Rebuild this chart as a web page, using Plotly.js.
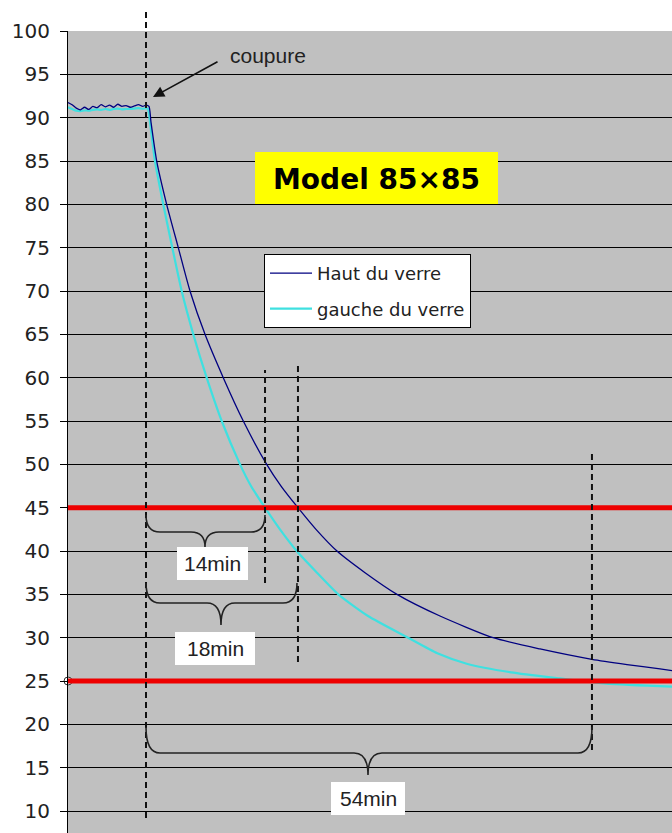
<!DOCTYPE html>
<html>
<head>
<meta charset="utf-8">
<script src="https://cdn.plot.ly/plotly-3.0.1.min.js"></script>
<style>
  html, body { margin: 0; padding: 0; background: #ffffff; overflow: hidden; }
  #chart { width: 672px; height: 833px; }
</style>
</head>
<body>
<div id="chart"></div>
<script>
// ---------- data (minutes after the cut, temperature) ----------
const timeHaut = [-9.4,-8.9,-8.4,-7.9,-7.4,-6.9,-6.4,-5.9,-5.4,-4.9,-4.4,-3.9,-3.4,-2.9,-2.4,-1.9,-1.4,-0.9,-0.4,0.0,
  0.36,0.6,1.29,2.49,3.89,5.30,7.11,9.31,11.72,14.54,16.27,18.31,20.48,23.01,26.39,30.24,35.42,41.81,47.47,53.73,57.95,61.93,63.4];
const haut = [91.75,91.5,91.1,90.9,91.2,90.95,91.3,91.15,91.5,91.25,91.45,91.2,91.55,91.3,91.4,91.2,91.35,91.5,91.3,91.45,
  91.3,89.5,85.0,80.0,75.0,70.0,65.0,60.0,55.0,50.0,47.5,45.0,42.5,40.0,37.5,35.0,32.5,30.0,28.7,27.5,26.9,26.4,26.2];

const timeGauche = [-9.4,-8.9,-8.4,-7.9,-7.4,-6.9,-6.4,-5.9,-5.4,-4.9,-4.4,-3.9,-3.4,-2.9,-2.4,-1.9,-1.4,-0.9,-0.4,0.0,
  0.24,0.48,1.08,2.08,3.17,4.30,5.70,7.31,9.12,11.33,12.65,14.34,16.14,18.16,20.6,23.17,26.75,31.57,35.1,38.64,44.0,49.88,55.5,63.4];
const gauche = [91.2,91.0,90.8,90.75,90.85,90.8,90.9,90.95,90.9,91.0,90.9,91.0,91.05,90.95,91.0,91.0,91.05,91.1,91.0,91.1,
  91.0,89.5,85.0,80.0,75.0,70.0,65.0,60.0,55.0,50.0,47.5,45.0,42.5,40.0,37.5,35.0,32.5,30.0,28.2,27.0,26.0,25.3,24.7,24.35];

const seriesNames = ["Haut du verre", "gauche du verre"];
const thresholdLevels = [45, 25];
const crossTimes = [14.34, 18.31, 53.73];        // dashed markers (minutes after cut)
const intervalLabels = ["14min", "18min", "54min"];
const yTickVals = [10,15,20,25,30,35,40,45,50,55,60,65,70,75,80,85,90,95,100];
const titleText = "Model 85×85";
const cutLabel = "coupure";

// ---------- pixel helpers for decorations ----------
const PX0 = 146, PXS = 8.3, PY0 = 31, PYS = 8.667;
function X(px){ return (px - PX0) / PXS; }
function Y(py){ return 100 - (py - PY0) / PYS; }
function PY(py){ return (833 - py) / 802; }

const xr = [X(68), X(672)];
const yr = [Y(833), 100];

function brace(x0, x1, yTop, yBar, xc, yTip){
  const r = 14;
  const pts = [
    'M', X(x0), Y(yTop),
    'Q', X(x0), Y(yBar), X(x0 + r), Y(yBar),
    'L', X(xc - r), Y(yBar),
    'Q', X(xc), Y(yBar), X(xc), Y(yTip),
    'Q', X(xc), Y(yBar), X(xc + r), Y(yBar),
    'L', X(x1 - r), Y(yBar),
    'Q', X(x1), Y(yBar), X(x1), Y(yTop)
  ];
  let out = '', nums = [];
  for (const p of pts) {
    if (typeof p === 'string') { out += p + ' '; }
    else { nums.push(p); if (nums.length === 2) { out += nums[0].toFixed(4) + ',' + nums[1].toFixed(4) + ' '; nums = []; } }
  }
  return {type:'path', xref:'x', yref:'y', path: out.trim(), line:{color:'#222', width:1.6}, layer:'above'};
}

const dash = '6px,4px';
const shapes = [];
// title box
shapes.push({type:'rect', xref:'x', yref:'y', x0:X(255), x1:X(498), y0:Y(204), y1:Y(152),
  fillcolor:'#ffff00', line:{width:0}, layer:'above'});
// red thresholds
thresholdLevels.forEach(v => shapes.push({type:'line', xref:'x', yref:'y', x0:xr[0], x1:xr[1], y0:v, y1:v,
  line:{color:'#ee0000', width:5}, layer:'above'}));
// cut dashed line (extends above plot)
shapes.push({type:'line', xref:'x', yref:'paper', x0:0, x1:0, y0:PY(818), y1:PY(8),
  line:{color:'#111', width:2, dash:dash}, layer:'above'});
// crossing dashed lines
const dashSpans = [[370,583],[363,662],[452,750]];
crossTimes.forEach((t,i) => shapes.push({type:'line', xref:'x', yref:'y', x0:t, x1:t,
  y0:Y(dashSpans[i][1]), y1:Y(dashSpans[i][0]), line:{color:'#111', width:2, dash:dash}, layer:'above'}));
// braces
shapes.push(brace(146, 265, 515, 532, 205, 547));
shapes.push(brace(146, 297, 583, 603, 221, 625));
shapes.push(brace(146, 592, 727, 753, 368, 775));
// label boxes
const labelBoxes = [[177,248,547,580],[175,255,632,665],[331,405,782,815]];
labelBoxes.forEach(b => shapes.push({type:'rect', xref:'x', yref:'y', x0:X(b[0]), x1:X(b[1]), y0:Y(b[3]), y1:Y(b[2]),
  fillcolor:'#ffffff', line:{width:0}, layer:'above'}));

const annotations = [];
annotations.push({xref:'x', yref:'y', x:X(376.5), y:Y(179), text:'<b>' + titleText + '</b>', showarrow:false,
  font:{family:'DejaVu Sans', size:28, color:'#000'}});
labelBoxes.forEach((b,i) => annotations.push({xref:'x', yref:'y', x:X((b[0]+b[1])/2), y:Y((b[2]+b[3])/2),
  text:intervalLabels[i], showarrow:false, font:{family:'Liberation Sans', size:21, color:'#222'}}));
// coupure arrow and label
annotations.push({xref:'x', yref:'y', x:X(153), y:Y(97), text:'', showarrow:true, arrowhead:2, arrowsize:1.4,
  arrowwidth:1.6, arrowcolor:'#111', ax:219-153, ay:61-97, standoff:0});
annotations.push({xref:'x', yref:'y', x:X(228), y:Y(55), xanchor:'left', text:cutLabel, showarrow:false,
  font:{family:'Liberation Sans', size:21, color:'#222'}});

const traces = [
  {x: timeGauche, y: gauche, name: seriesNames[1], type:'scatter', mode:'lines',
   line:{color:'#3fe0e0', width:2.2, shape:'spline', smoothing:0.6}, legendgroup:'g', legendrank:2, hoverinfo:'skip'},
  {x: timeHaut, y: haut, name: seriesNames[0], type:'scatter', mode:'lines',
   line:{color:'#000080', width:1.3, shape:'spline', smoothing:0.6}, legendgroup:'h', legendrank:1, hoverinfo:'skip'},
  {x: [xr[0]], y: [thresholdLevels[1]], type:'scatter', mode:'markers', showlegend:false, cliponaxis:false,
   marker:{color:'#ffffff', size:8, line:{color:'#333', width:1}}, hoverinfo:'skip'}
];

const layout = {
  width: 672, height: 833,
  margin: {l:68, r:0, t:31, b:0, pad:0},
  paper_bgcolor:'#ffffff', plot_bgcolor:'#c0c0c0',
  showlegend: true,
  legend: {x:(264-68)/604, y:PY(254), xanchor:'left', yanchor:'top', bgcolor:'#ffffff',
    bordercolor:'#000', borderwidth:1, traceorder:'grouped', tracegroupgap:9, itemwidth:42,
    font:{family:'DejaVu Sans', size:18, color:'#222'}},
  xaxis: {range: xr, showticklabels:false, showgrid:false, zeroline:false, showline:false, ticks:'', fixedrange:true},
  yaxis: {range: yr, tickvals: yTickVals, ticks:'outside', ticklen:7, tickcolor:'#000', tickwidth:1,
    showline:true, linecolor:'#000', linewidth:1, showgrid:true, gridcolor:'#000', gridwidth:1,
    zeroline:false, ticklabelstandoff:6,
    tickfont:{family:'DejaVu Sans', size:20, color:'#222'}, fixedrange:true},
  shapes: shapes,
  annotations: annotations
};

Plotly.newPlot('chart', traces, layout, {displayModeBar:false, staticPlot:true});
</script>
</body>
</html>
